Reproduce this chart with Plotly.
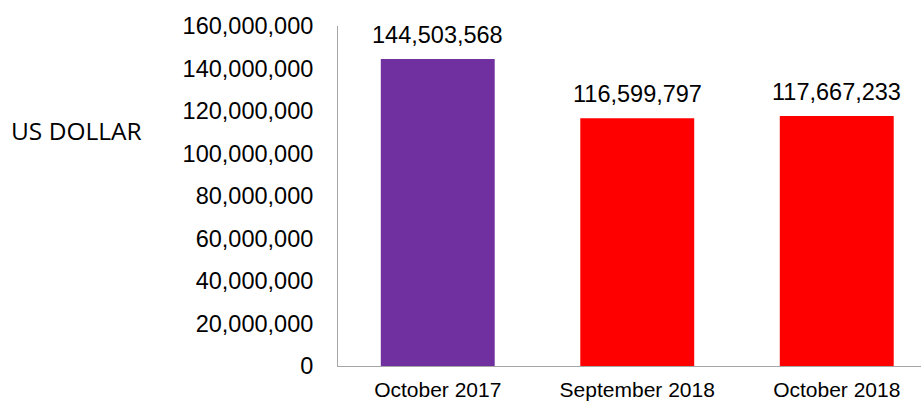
import plotly.graph_objects as go

categories = ["October 2017", "September 2018", "October 2018"]
values = [144503568, 116599797, 117667233]
bar_colors = ["#7030A0", "#FF0000", "#FF0000"]
y_tick_vals = [0, 20000000, 40000000, 60000000, 80000000, 100000000, 120000000, 140000000, 160000000]
y_tick_text = [f"{v:,}" for v in y_tick_vals]
axis_title = "US DOLLAR"

W, H = 921, 401
ML, MR, MT, MB = 338, 0, 26, 35
plot_w = W - ML - MR

fig = go.Figure()
fig.add_trace(go.Bar(
    x=categories, y=values,
    marker=dict(color=bar_colors, line=dict(width=0)),
    showlegend=False, hoverinfo="skip",
))

for c, v in zip(categories, values):
    fig.add_annotation(
        x=c, y=v, text=f"{v:,}", showarrow=False,
        yanchor="bottom", yshift=9,
        font=dict(family="Liberation Sans, Arial", size=23.5, color="#000000"),
    )

fig.add_annotation(
    xref="paper", yref="paper",
    x=(9 - ML) / plot_w, y=(H - MB - 130) / (H - MT - MB),
    xanchor="left", yanchor="middle",
    text=axis_title, showarrow=False,
    font=dict(family="Open Sans", size=24.5, color="#000000"),
)

fig.update_layout(
    width=W, height=H,
    margin=dict(l=ML, r=MR, t=MT, b=MB, pad=0, autoexpand=False),
    paper_bgcolor="white", plot_bgcolor="white",
    bargap=0.429,
    xaxis=dict(
        range=[-0.5, -0.5 + plot_w / 199.5],
        showgrid=False, zeroline=False, automargin=False,
        showline=True, linecolor="#A6A6A6", linewidth=1,
        ticks="", ticklabelstandoff=5,
        tickfont=dict(family="Liberation Sans, Arial", size=21, color="#000000"),
    ),
    yaxis=dict(
        range=[0, 160000000],
        tickvals=y_tick_vals, ticktext=y_tick_text,
        showgrid=False, zeroline=False, automargin=False,
        showline=True, linecolor="#A6A6A6", linewidth=1,
        ticks="", ticklabelstandoff=19,
        tickfont=dict(family="Liberation Sans, Arial", size=23.5, color="#000000"),
    ),
)

fig.write_html("out.html")
